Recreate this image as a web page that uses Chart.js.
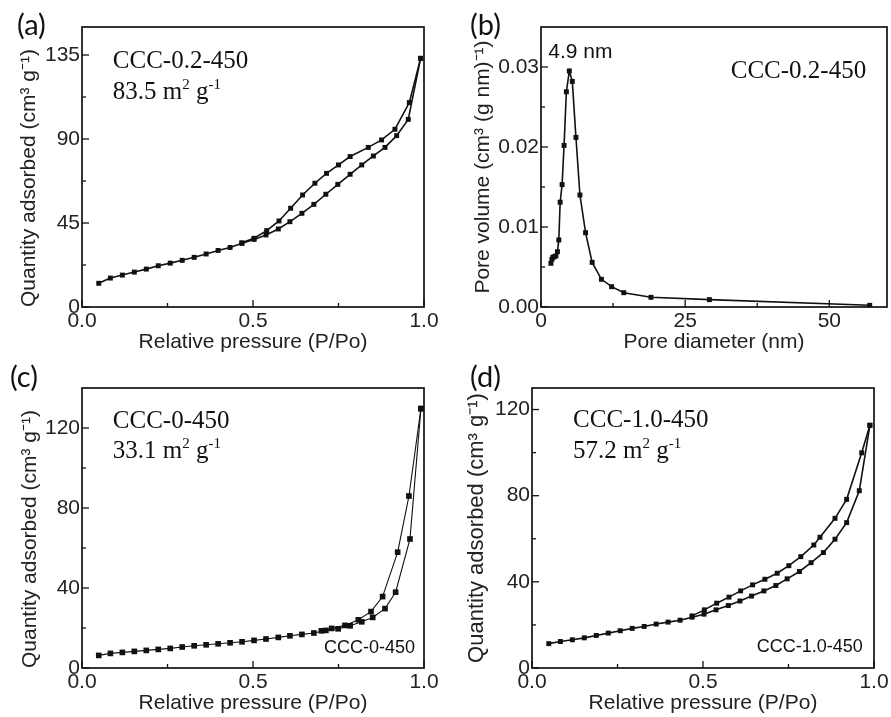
<!DOCTYPE html>
<html>
<head>
<meta charset="utf-8">
<script src="https://cdn.jsdelivr.net/npm/chart.js@4.4.0/dist/chart.umd.min.js"></script>
<style>
body { margin: 0; background: #fff; }
#page { position: relative; width: 891px; height: 717px; overflow: hidden; background: #fff; }
canvas { position: absolute; }
</style>
</head>
<body>
<div id="page">
  <canvas id="chartA" width="445" height="360" style="left:0;top:0"></canvas>
  <canvas id="chartB" width="446" height="360" style="left:445px;top:0"></canvas>
  <canvas id="chartC" width="445" height="372" style="left:0;top:345px"></canvas>
  <canvas id="chartD" width="446" height="372" style="left:445px;top:345px"></canvas>
</div>
<script>
//1) DATA//
// (a) CCC-0.2-450 isotherm
var aAdsP = [0.049,0.083,0.118,0.153,0.188,0.223,0.258,0.293,0.328,0.363,0.398,0.433,0.468,0.503,0.538,0.574,0.608,0.643,0.678,0.713,0.748,0.784,0.818,0.852,0.886,0.920,0.954,0.990]
var aAdsQ = [12.7,15.5,17.1,18.7,20.3,22.1,23.5,25.0,26.6,28.4,30.3,31.9,34.1,36.2,38.6,41.8,45.7,50.2,55.0,60.4,65.7,71.1,76.1,80.9,85.5,91.8,100.5,133.2]
var aDesP = [0.990,0.957,0.915,0.876,0.837,0.784,0.750,0.715,0.681,0.645,0.610,0.576,0.540,0.503,0.467]
var aDesQ = [133.2,109.5,95.2,89.5,85.5,80.6,76.1,71.6,66.3,60.0,52.9,46.1,40.9,36.8,34.4]
var aXTicks = [0, 0.5, 1.0], aXMinor = [0.25, 0.75]
var aYTicks = [0, 45, 90, 135], aYMinor = [22.5, 67.5, 112.5]

// (b) CCC-0.2-450 pore size distribution
var bDiam = [1.72,1.89,2.06,2.28,2.58,2.85,3.09,3.32,3.66,4.00,4.40,4.91,5.43,6.06,6.75,7.73,8.87,10.48,12.25,14.36,19.07,29.2,57.0]
var bVol = [0.00546,0.00596,0.00621,0.00629,0.00638,0.00691,0.00838,0.0131,0.0153,0.0202,0.0269,0.0295,0.0282,0.0212,0.0140,0.00929,0.00558,0.00346,0.00254,0.00179,0.00121,0.00092,0.00021]
var bXTicks = [0, 25, 50], bXMinor = [12.5, 37.5]
var bYTicks = [0, 0.01, 0.02, 0.03], bYMinor = [0.005, 0.015, 0.025]

// (c) CCC-0-450 isotherm
var cAdsP = [0.049,0.083,0.118,0.153,0.188,0.223,0.258,0.293,0.328,0.363,0.398,0.433,0.468,0.503,0.538,0.574,0.608,0.643,0.678,0.713,0.749,0.784,0.818,0.850,0.886,0.917,0.959,0.991]
var cAdsQ = [6.3,7.3,7.8,8.3,8.8,9.3,9.8,10.5,11.1,11.6,12.1,12.6,13.1,13.8,14.5,15.3,16.1,16.8,17.5,18.8,19.6,21.1,23.1,25.3,29.7,37.9,64.5,129.7]
var cDesP = [0.991,0.956,0.923,0.879,0.845,0.808,0.769,0.730,0.700]
var cDesQ = [129.7,86.0,57.9,35.7,28.2,24.1,21.3,19.8,18.6]
var cXTicks = [0, 0.5, 1.0], cXMinor = [0.25, 0.75]
var cYTicks = [0, 40, 80, 120], cYMinor = [20, 60, 100]

// (d) CCC-1.0-450 isotherm
var dAdsP = [0.049,0.083,0.118,0.153,0.188,0.223,0.258,0.293,0.328,0.363,0.398,0.433,0.468,0.503,0.538,0.574,0.608,0.642,0.678,0.713,0.746,0.782,0.816,0.852,0.886,0.920,0.957,0.988]
var dAdsQ = [11.3,12.3,13.1,14.0,15.1,16.2,17.3,18.4,19.3,20.4,21.3,22.2,23.6,25.0,27.0,29.0,31.1,33.4,35.8,38.3,41.4,44.8,48.9,53.6,59.8,67.5,82.3,112.7]
var dDesP = [0.988,0.964,0.920,0.886,0.842,0.824,0.786,0.751,0.717,0.681,0.645,0.610,0.576,0.540,0.504,0.468]
var dDesQ = [112.7,99.9,78.3,69.5,60.7,57.1,51.7,47.5,44.0,41.2,38.6,35.8,32.9,30.1,27.0,24.2]
var dXTicks = [0, 0.5, 1.0], dXMinor = [0.25, 0.75]
var dYTicks = [0, 40, 80, 120], dYMinor = [20, 60, 100]

var isoX = 'Relative pressure (P/Po)'
var isoY = 'Quantity adsorbed (cm\u00B3 g\u207B\u00B9)'

//2) HELPERS//
Chart.defaults.font.family = '"Liberation Sans", Arial, sans-serif'
Chart.defaults.color = '#222'
var SERIF = '"Liberation Serif", "Times New Roman", serif'
var SANS = '"Liberation Sans", Arial, sans-serif'

function pts(xs, ys) {
   return xs.map((x, i) => ({ x: x, y: ys[i] }))
}

function axis(min, max, major, minor, fmt, title, size, titlePad, horiz, titleSize, titleAlign) {
   return {
      type: 'linear', min: min, max: max,
      grid: { display: false, drawTicks: false },
      border: { display: false },
      ticks: {
         autoSkip: false, maxRotation: 0, padding: 2,
         color: '#222', font: { size: 21 },
         callback: v => major.includes(v) ? fmt(v) : ''
      },
      afterBuildTicks: s => {
         s.ticks = major.concat(minor).sort((p, q) => p - q).map(v => ({ value: v }))
      },
      afterFit: s => { if (horiz) s.height = size; else s.width = size },
      title: {
         display: true, text: title, color: '#222', font: { size: titleSize || 21 },
         align: titleAlign || 'center',
         padding: horiz ? { top: 0, bottom: titlePad } : { top: titlePad, bottom: 0 }
      }
   }
}

// text with superscripts: parts = [[text, isSup], ...]
function rich(ctx, x, y, parts, size, family, align) {
   var w = 0
   parts.forEach(p => {
      ctx.font = (p[1] ? size * 0.6 : size) + 'px ' + family
      w += ctx.measureText(p[0]).width
   })
   if (align === 'right') x -= w
   parts.forEach(p => {
      ctx.font = (p[1] ? size * 0.6 : size) + 'px ' + family
      ctx.fillText(p[0], x, p[1] ? y - size * 0.4 : y)
      x += ctx.measureText(p[0]).width
   })
}

function decor(o) {
   return {
      id: 'decor',
      afterDraw(chart) {
         var ctx = chart.ctx, a = chart.chartArea, sx = chart.scales.x, sy = chart.scales.y
         ctx.save()
         ctx.strokeStyle = '#111'
         ctx.lineWidth = 1.3
         sx.ticks.forEach(t => {
            var p = sx.getPixelForValue(t.value), l = o.xTicks.includes(t.value) ? 7 : 4
            ctx.beginPath(); ctx.moveTo(p, a.bottom); ctx.lineTo(p, a.bottom - l); ctx.stroke()
         })
         sy.ticks.forEach(t => {
            var p = sy.getPixelForValue(t.value), l = o.yTicks.includes(t.value) ? 7 : 4
            ctx.beginPath(); ctx.moveTo(a.left, p); ctx.lineTo(a.left + l, p); ctx.stroke()
         })
         ctx.lineWidth = 1.7
         ctx.strokeRect(a.left, a.top, a.right - a.left, a.bottom - a.top)
         ctx.fillStyle = '#111'
         ctx.textBaseline = 'alphabetic'
         ctx.font = '29px Lato, "Noto Sans", sans-serif'
         ctx.fillText(o.tag, o.tagX, o.tagY)
         o.notes.forEach(n => {
            rich(ctx, sx.getPixelForValue(n.x), sy.getPixelForValue(n.y), n.parts, n.size, n.family, n.align)
         })
         ctx.restore()
      }
   }
}

function makePanel(id, o) {
   return new Chart(document.getElementById(id), {
      type: 'scatter',
      data: {
         datasets: o.sets.map(s => ({
            data: pts(s[0], s[1]),
            showLine: true,
            borderColor: '#111',
            backgroundColor: '#111',
            borderWidth: o.lw,
            pointStyle: 'rect',
            pointRadius: o.pr,
            pointBorderWidth: 0,
            tension: 0
         }))
      },
      options: {
         responsive: false,
         animation: false,
         devicePixelRatio: 1,
         layout: { padding: o.pad },
         plugins: { legend: { display: false }, tooltip: { enabled: false } },
         scales: {
            x: axis(o.xMin, o.xMax, o.xTicks, o.xMinor, o.xFmt, o.xTitle, o.xSize, o.xTitlePad, true),
            y: axis(o.yMin, o.yMax, o.yTicks, o.yMinor, o.yFmt, o.yTitle, o.ySize, o.yTitlePad, false, o.yTitleSize, o.yTitleAlign)
         }
      },
      plugins: [decor(o)]
   })
}

var f1 = v => v.toFixed(1)
var f0 = v => String(v)
var f2 = v => v.toFixed(2)

//3) PANELS//
makePanel('chartA', {
   sets: [[aAdsP, aAdsQ], [aDesP, aDesQ]], lw: 1.6, pr: 3.5,
   pad: { left: 0, top: 27, right: 21, bottom: 0 },
   xMin: 0, xMax: 1, xTicks: aXTicks, xMinor: aXMinor, xFmt: f1, xTitle: isoX, xSize: 53, xTitlePad: 5,
   yMin: 0, yMax: 150, yTicks: aYTicks, yMinor: aYMinor, yFmt: f0, yTitle: isoY, ySize: 82, yTitlePad: 17,
   yTitleAlign: 'start',
   tag: '(a)', tagX: 17, tagY: 35,
   notes: [
      { x: 0.09, y: 128, parts: [['CCC-0.2-450']], size: 25, family: SERIF },
      { x: 0.09, y: 111.4, parts: [['83.5 m'], ['2', 1], [' g'], ['-1', 1]], size: 25, family: SERIF }
   ]
})

makePanel('chartB', {
   sets: [[bDiam, bVol]], lw: 1.6, pr: 3.5,
   pad: { left: 0, top: 27, right: 1, bottom: 0 },
   xMin: 0, xMax: 60, xTicks: bXTicks, xMinor: bXMinor, xFmt: f0, xTitle: 'Pore diameter (nm)', xSize: 53, xTitlePad: 5,
   yMin: 0, yMax: 0.035, yTicks: bYTicks, yMinor: bYMinor, yFmt: f2, yTitle: 'Pore volume (cm\u00B3 (g nm)\u207B\u00B9)', ySize: 96, yTitlePad: 26,
   tag: '(b)', tagX: 25, tagY: 35,
   notes: [
      { x: 1.25, y: 0.0311, parts: [['4.9 nm']], size: 21, family: SANS },
      { x: 32.9, y: 0.0286, parts: [['CCC-0.2-450']], size: 25, family: SERIF }
   ]
})

makePanel('chartC', {
   sets: [[cAdsP, cAdsQ], [cDesP, cDesQ]], lw: 1.1, pr: 4,
   pad: { left: 0, top: 43, right: 21, bottom: 0 },
   xMin: 0, xMax: 1, xTicks: cXTicks, xMinor: cXMinor, xFmt: f1, xTitle: isoX, xSize: 49, xTitlePad: 1,
   yMin: 0, yMax: 140, yTicks: cYTicks, yMinor: cYMinor, yFmt: f0, yTitle: isoY, ySize: 82, yTitlePad: 18,
   yTitleAlign: 'start',
   tag: '(c)', tagX: 10, tagY: 42,
   notes: [
      { x: 0.09, y: 120, parts: [['CCC-0-450']], size: 25, family: SERIF },
      { x: 0.09, y: 105, parts: [['33.1 m'], ['2', 1], [' g'], ['-1', 1]], size: 25, family: SERIF },
      { x: 0.974, y: 7.6, parts: [['CCC-0-450']], size: 18, family: SANS, align: 'right' }
   ]
})

makePanel('chartD', {
   sets: [[dAdsP, dAdsQ], [dDesP, dDesQ]], lw: 1.6, pr: 3.5,
   pad: { left: 0, top: 43, right: 17, bottom: 0 },
   xMin: 0, xMax: 1, xTicks: dXTicks, xMinor: dXMinor, xFmt: f1, xTitle: isoX, xSize: 49, xTitlePad: 1,
   yMin: 0, yMax: 130, yTicks: dYTicks, yMinor: dYMinor, yFmt: f0, yTitle: isoY, ySize: 87, yTitlePad: 19,
   yTitleSize: 22,
   tag: '(d)', tagX: 25, tagY: 42,
   notes: [
      { x: 0.12, y: 111.7, parts: [['CCC-1.0-450']], size: 25, family: SERIF },
      { x: 0.12, y: 97.4, parts: [['57.2 m'], ['2', 1], [' g'], ['-1', 1]], size: 25, family: SERIF },
      { x: 0.967, y: 7.5, parts: [['CCC-1.0-450']], size: 18, family: SANS, align: 'right' }
   ]
})
</script>
</body>
</html>
